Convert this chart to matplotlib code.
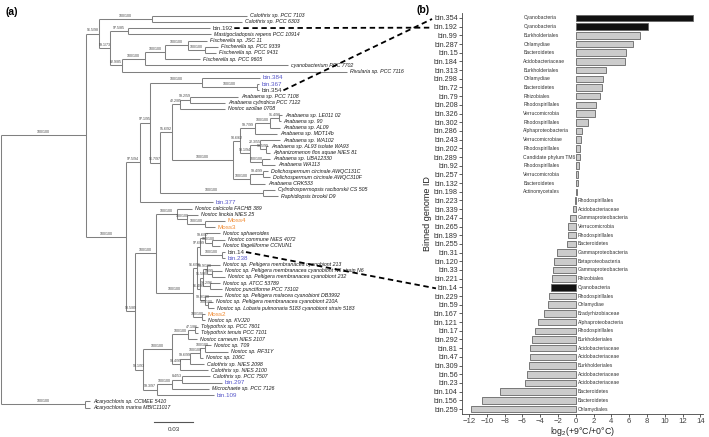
import matplotlib
matplotlib.use("Agg")
import matplotlib.pyplot as plt
from matplotlib.lines import Line2D

plt.rcParams['font.family'] = ['Liberation Sans', 'DejaVu Sans']
plt.rcParams['mathtext.fontset'] = 'custom'
plt.rcParams['mathtext.rm'] = 'Liberation Sans'
plt.rcParams['mathtext.default'] = 'regular'

# ---------------- (a) phylogeny, newick with support labels ----------------
clade_top = ("((Calothrix sp. PCC 7103:0.0731,Calothrix sp. PCC 6303:0.0692)100/100:0.0408,"
             "((bin.192:0.0631,Mastigocladopsis repens PCC 10914:0.0638)97.5/85:0.0138,"
             "((((Fischerella sp. JSC 11:0.0146,(Fischerella sp. PCC 9339:0.0100,Fischerella sp. PCC 9431:0.0085)100/100:0.0131)100/100:0.0177,"
             "Fischerella sp. PCC 9605:0.0269)100/100:0.0154,cyanobacterium PCC 7702:0.1100)100/100:0.0177,"
             "Rivularia sp. PCC 7116:0.1731)82.9/85:0.0092)99.1/73:0.0085)96.5/98:0.0100")

clade_anabaena = ("(((bin.384:0.0446,(bin.367:0.0015,bin.354:0.0015)100/100:0.0423)100/100:0.0400,"
                  "((((Anabaena sp. PCC 7108:0.0369,Anabaena cylindrica PCC 7122:0.0269)99.2/59:0.0077,Nostoc azollae 0708:0.0346)42.2/85:0.0062,"
                  "(((((Anabaena sp. LE011 02:0.0023,Anabaena sp. 90:0.0015)91.4/98:0.0069,Anabaena sp. AL09:0.0077)100/100:0.0115,"
                  "Anabaena sp. MDT14b:0.0169)99.7/99:0.0115,"
                  "((Anabaena sp. WA102:0.0154,(Anabaena sp. AL93 isolate WA93:0.0015,Aphanizomenon flos aquae NIES 81:0.0031)98.5/99:0.0046)22.3/55:0.0077,"
                  "(Anabaena sp. UBA12330:0.0062,Anabaena WA113:0.0100)100/100:0.0092)93.1/94:0.0077)90.6/62:0.0054,"
                  "((Dolichospermum circinale AWQC131C:0.0038,Dolichospermum circinale AWQC310F:0.0054)99.4/99:0.0100,"
                  "Anabaena CRK533:0.0115)100/100:0.0131)100/100:0.0469)95.6/92:0.0092,"
                  "(Cylindrospermopsis raciborskii CS 505:0.0092,Raphidiopsis brookii D9:0.0115)100/100:0.0792)96.7/97:0.0077)97.1/95:0.0077,"
                  "bin.377:0.0562)97.5/94:0.0108")

clade_nostoc = ("(((Nostoc calcicola FACHB 389:0.0115,(Nostoc linckia NIES 25:0.0085,(Moss4:0.0154,Moss3:0.0077)100/100:0.0138)100/100:0.0077)100/100:0.0162,"
                "((((Nostoc sphaeroides:0.0115,(Nostoc commune NIES 4072:0.0100,Nostoc flagelliforme CCNUN1:0.0062)100/100:0.0054)99.6/97:0.0038,"
                "(bin.14:0.0023,bin.238:0.0023)100/100:0.0169)97.6/99:0.0023,"
                "(((Nostoc sp. Peltigera membranacea cyanobiont 213:0.0100,(Nostoc sp. Peltigera membranacea cyanobiont N6 strain N6:0.0077,"
                "Nostoc sp. Peltigera membranacea cyanobiont 232:0.0100)99/99:0.0038)99.9/100:0.0031,"
                "(Nostoc sp. ATCC 53789:0.0077,Nostoc punctiforme PCC 73102:0.0092)93.2/96:0.0054)91.5/80:0.0023,"
                "(Nostoc sp. Peltigera malacea cyanobiont DB3992:0.0131,(Nostoc sp. Peltigera membranacea cyanobiont 210A:0.0038,"
                "Nostoc sp. Lobaria pulmonaria 5183 cyanobiont strain 5183:0.0046)100/100:0.0023)99.9/100:0.0038)96.4/99:0.0023)96.6/96:0.0031,"
                "(Moss2:0.0023,Nostoc sp. KVJ20:0.0023)100/100:0.0069)100/100:0.0285)100/100:0.0162,"
                "((((Tolypothrix sp. PCC 7601:0.0023,Tolypothrix tenuis PCC 7101:0.0023)47.1/86:0.0054,Nostoc carneum NIES 2107:0.0069)100/100:0.0123,"
                "((((Nostoc sp. T09:0.0046,Nostoc sp. RF31Y:0.0177)100/100:0.0038,Nostoc sp. 106C:0.0023)100/100:0.0077,"
                "Calothrix sp. NIES 2098:0.0108)99.6/99:0.0077,Calothrix sp. NIES 2100:0.0215)98.4/99:0.0062)100/100:0.0223,"
                "(((Calothrix sp. PCC 7507:0.0215,bin.297:0.0308)8.4/53:0.0077,Microchaete sp. PCC 7126:0.0285)100/100:0.0115,"
                "bin.109:0.0438)99.3/97:0.0108)98.1/93:0.0062)93.5/89:0.0069")

outgroup = "(Acaryochloris sp. CCMEE 5410:0.0038,Acaryochloris marina MBIC11017:0.0038)100/100:0.0646"

tree_newick = ("((" + clade_top + ",(" + clade_anabaena + "," + clade_nostoc + ")100/100:0.0308)100/100:0.0654,"
               + outgroup + ");")

blue_bins = ['bin.384', 'bin.367', 'bin.377', 'bin.238', 'bin.297', 'bin.109']
moss = ['Moss2', 'Moss3', 'Moss4']
linked_bins = ['bin.192', 'bin.354', 'bin.14']
scale_len = 0.03

# ---------------- (b) bar chart ----------------
bins = ['bin.354', 'bin.192', 'bin.99', 'bin.287', 'bin.15', 'bin.184', 'bin.313', 'bin.298', 'bin.72',
        'bin.79', 'bin.208', 'bin.326', 'bin.302', 'bin.286', 'bin.243', 'bin.202', 'bin.289', 'bin.92',
        'bin.257', 'bin.132', 'bin.198', 'bin.223', 'bin.339', 'bin.247', 'bin.265', 'bin.189', 'bin.255',
        'bin.31', 'bin.120', 'bin.33', 'bin.221', 'bin.14', 'bin.229', 'bin.59', 'bin.167', 'bin.121',
        'bin.17', 'bin.292', 'bin.81', 'bin.47', 'bin.309', 'bin.56', 'bin.23', 'bin.104', 'bin.156', 'bin.259']
taxa = ['Cyanobacteria', 'Cyanobacteria', 'Burkholderiales', 'Chlamydiae', 'Bacteroidetes',
        'Acidobacteriaceae', 'Burkholderiales', 'Chlamydiae', 'Bacteroidetes', 'Rhizobiales',
        'Rhodospirillales', 'Verrucomicrobia', 'Rhodospirillales', 'Alphaproteobacteria', 'Verrucomicrobiae',
        'Rhodospirillales', 'Candidate phylum TM6', 'Rhodospirillales', 'Verrucomicrobia', 'Bacteroidetes',
        'Actinomycetales', 'Rhodospirillales', 'Acidobacteriaceae', 'Gammaproteobacteria', 'Verrucomicrobia',
        'Rhodospirillales', 'Bacteroidetes', 'Gammaproteobacteria', 'Betaproteobacteria', 'Gammaproteobacteria',
        'Rhizobiales', 'Cyanobacteria', 'Rhodospirillales', 'Chlamydiae', 'Bradyrhizobiaceae',
        'Alphaproteobacteria', 'Rhodospirillales', 'Burkholderiales', 'Acidobacteriaceae', 'Acidobacteriaceae',
        'Burkholderiales', 'Acidobacteriaceae', 'Acidobacteriaceae', 'Bacteroidetes', 'Bacteroidetes',
        'Chlamydiales']
log2_ratio = [13.2, 8.1, 7.2, 6.4, 5.6, 5.55, 3.4, 3.0, 2.9, 2.7, 2.3, 2.2, 1.4, 0.7, 0.55, 0.5, 0.45,
              0.3, 0.25, 0.2, 0.08,
              -0.15, -0.27, -0.65, -0.85, -0.87, -1.0, -2.15, -2.5, -2.6, -2.7, -2.8, -2.97, -3.15, -3.55,
              -4.3, -4.6, -4.95, -5.1, -5.15, -5.25, -5.5, -5.7, -8.5, -10.6, -11.8]


def parse_newick(s):
    pos = 0

    def node():
        nonlocal pos
        kids = []
        if s[pos] == '(':
            pos += 1
            kids.append(node())
            while s[pos] == ',':
                pos += 1
                kids.append(node())
            pos += 1
        j = pos
        while s[pos] not in ':,);':
            pos += 1
        name = s[j:pos].strip()
        bl = 0.0
        if s[pos] == ':':
            pos += 1
            j = pos
            while s[pos] not in ',);':
                pos += 1
            bl = float(s[j:pos])
        return {'name': name, 'bl': bl, 'kids': kids}

    return node()


root = parse_newick(tree_newick)
leaves = []


def layout(n, x0):
    n['x'] = x0 + n['bl']
    if not n['kids']:
        n['y'] = len(leaves)
        leaves.append(n)
    else:
        for k in n['kids']:
            layout(k, n['x'])
        n['y'] = (n['kids'][0]['y'] + n['kids'][-1]['y']) / 2


layout(root, 0.0)

fig = plt.figure(figsize=(7.09, 4.37), dpi=100)
axt = fig.add_axes([0, 0, 1, 1])
axt.set_xlim(-0.00077, 0.5446)
axt.set_ylim(67.73, -2.52)
axt.axis('off')

line_col = '#808080'
leaf_text = {}


def draw(n, px):
    if n is not root:
        axt.plot([px, n['x']], [n['y'], n['y']], color=line_col, lw=0.75, solid_capstyle='butt')
    if n['kids']:
        axt.plot([n['x'], n['x']], [n['kids'][0]['y'], n['kids'][-1]['y']], color=line_col, lw=0.75,
                 solid_capstyle='butt')
        if n['name']:
            axt.text((px + n['x']) / 2, n['y'] - 0.2, n['name'], fontsize=2.6, color='#444444',
                     ha='center', va='bottom')
        for k in n['kids']:
            draw(k, n['x'])
    else:
        name = n['name']
        if name in blue_bins:
            kw = dict(color='#5757c9', fontsize=4.5)
        elif name in moss:
            kw = dict(color='#f08a32', fontsize=4.5)
        elif name in linked_bins:
            kw = dict(color='#333333', fontsize=4.5)
        else:
            kw = dict(color='#1a1a1a', fontsize=3.75, style='italic')
        leaf_text[name] = axt.text(n['x'] + 0.0022, n['y'], name, va='center', ha='left', **kw)


draw(root, 0.0)

# scale bar
sb_x0 = 0.1177
sb_y = len(leaves) + 1.3
axt.plot([sb_x0, sb_x0 + scale_len], [sb_y, sb_y], color='#555555', lw=0.8)
axt.text(sb_x0 + scale_len / 2, sb_y + 0.8, str(scale_len), fontsize=4.5, color='#333333',
         ha='center', va='top')

fig.text(0.008, 0.985, '(a)', fontsize=7.5, fontweight='bold', va='top')
fig.text(0.588, 0.988, '(b)', fontsize=7.5, fontweight='bold', va='top')

# ---------------- bar axes ----------------
axb = fig.add_axes([0.6516, 0.0531, 0.340, 0.9167])
axb.patch.set_alpha(0)
rows = list(range(len(bins)))
colors = ['#111111' if t == 'Cyanobacteria' else '#cccccc' for t in taxa]
axb.barh(rows, log2_ratio, height=0.75, color=colors, edgecolor='#666666', linewidth=0.6)
for i, (t, v) in enumerate(zip(taxa, log2_ratio)):
    axb.text(-5.9 if v > 0 else 0.25, i, t, fontsize=3.6, color='#333333', va='center', ha='left')

axb.set_ylim(len(bins) - 0.45, -0.55)
axb.set_xlim(-12.8, 14.3)
axb.set_yticks(rows)
axb.set_yticklabels(bins, fontsize=5.2, color='#333333')
axb.set_xticks(range(-12, 15, 2))
axb.tick_params(axis='x', labelsize=5.6, labelcolor='#444444', length=2, width=0.6, pad=1, color='#444444')
axb.tick_params(axis='y', length=2, width=0.6, pad=1, color='#444444')
for s in ['top', 'right']:
    axb.spines[s].set_visible(False)
for s in ['left', 'bottom']:
    axb.spines[s].set_linewidth(0.6)
    axb.spines[s].set_color('#444444')
axb.set_xlabel('log$_2$(+9°C/+0°C)', fontsize=6.3, color='#222222', labelpad=0)
axb.set_ylabel('Binned genome ID', fontsize=6.5, color='#222222', labelpad=1)

# dashed links between tree tips and bars
fig.canvas.draw()
renderer = fig.canvas.get_renderer()
ticklabels = axb.get_yticklabels()
inv = fig.transFigure.inverted()
for name in linked_bins:
    tb = leaf_text[name].get_window_extent(renderer)
    lb = ticklabels[bins.index(name)].get_window_extent(renderer)
    p0 = inv.transform((tb.x1 + 1, (tb.y0 + tb.y1) / 2))
    p1 = inv.transform((lb.x0 - 2, (lb.y0 + lb.y1) / 2))
    fig.add_artist(Line2D([p0[0], p1[0]], [p0[1], p1[1]], transform=fig.transFigure,
                          color='black', lw=1.3, linestyle=(0, (3, 2))))

fig.savefig('out.png', dpi=100)
